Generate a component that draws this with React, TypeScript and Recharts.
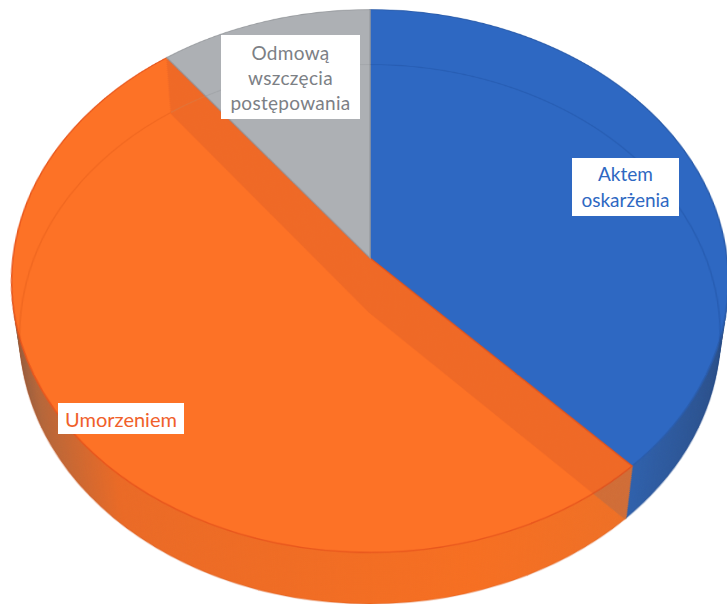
import React from "react";
import { PieChart, Pie, Cell } from "recharts";

const categories = ["Aktem oskarżenia", "Umorzeniem", "Odmową wszczęcia postępowania"];
const shares = [37.9, 51.7, 10.4];
const faceColors = ["#2e68c2", "#fd7226", "#adb0b4"];
const wallColors = ["url(#wallBlue)", "url(#wallOrange)", "#8f9296"];
const edgeColors = ["#2a5cab", "#e8561c", "#9a9da1"];
const floorEdge = ["#123a80", "#c84810", "#7a7d82"];
const labelLines = [["Aktem", "oskarżenia"], ["Umorzeniem"], ["Odmową", "wszczęcia", "postępowania"]];
const labelColors = ["#2e68c2", "#f0602a", "#7c8085"];

const data = categories.map((name, i) => ({ name, value: shares[i] }));

const SIZE = 720;
const RADIUS = 357;
const DEPTH = 84;
const WALL_LAYERS = 28;
const wallSteps = Array.from({ length: WALL_LAYERS }, (_, i) => WALL_LAYERS - i);
const arcLengths = shares.map((s) => (s / 100) * 2 * Math.PI * RADIUS);
const NONE = ["none", "none", "none"];

type LayerProps = {
  z: number;
  fills: string[];
  strokes?: string[];
  strokeWidth?: number;
  dashes?: (string | undefined)[];
};

function Layer({ z, fills, strokes, strokeWidth = 0, dashes }: LayerProps) {
  return (
    <div
      style={{
        position: "absolute",
        left: 10,
        top: -102,
        width: SIZE,
        height: SIZE,
        transformOrigin: "50% 50%",
        transform: `perspective(2757px) rotateX(41deg) translateZ(${z}px)`,
      }}
    >
      <PieChart width={SIZE} height={SIZE} margin={{ top: 0, right: 0, bottom: 0, left: 0 }}>
        <defs>
          <linearGradient id="wallBlue" x1="0" y1="0" x2="1" y2="0">
            <stop offset="0.7" stopColor="#2f60aa" />
            <stop offset="1" stopColor="#2a4d86" />
          </linearGradient>
          <linearGradient id="wallOrange" x1="0" y1="0" x2="1" y2="0">
            <stop offset="0" stopColor="#8a5a40" />
            <stop offset="0.06" stopColor="#b5663a" />
            <stop offset="0.2" stopColor="#ea6a26" />
            <stop offset="0.75" stopColor="#f66f22" />
            <stop offset="1" stopColor="#ee7026" />
          </linearGradient>
        </defs>
        <Pie
          data={data}
          dataKey="value"
          nameKey="name"
          cx={SIZE / 2}
          cy={SIZE / 2}
          outerRadius={RADIUS}
          startAngle={90}
          endAngle={-270}
          isAnimationActive={false}
          label={false}
          labelLine={false}
        >
          {fills.map((fill, i) => (
            <Cell
              key={categories[i]}
              fill={fill}
              stroke={strokes ? strokes[i] : "none"}
              strokeWidth={strokeWidth}
              strokeDasharray={dashes ? dashes[i] : undefined}
            />
          ))}
        </Pie>
      </PieChart>
    </div>
  );
}

const radialOnly = arcLengths.map((len) => `0 ${len} ${RADIUS * 2 + 4} 0`);
const arcOnly = arcLengths.map((len) => `${len} ${RADIUS * 2 + 4}`);

const boxStyle: React.CSSProperties = {
  position: "absolute",
  background: "#ffffff",
  fontFamily: "Lato, 'Open Sans', sans-serif",
  textAlign: "center",
  boxSizing: "border-box",
  display: "flex",
  flexDirection: "column",
  justifyContent: "center",
};

const labelBoxes: React.CSSProperties[] = [
  { left: 572, top: 158, width: 107, height: 58, fontSize: 19, lineHeight: "26px" },
  { left: 58, top: 403, width: 126, height: 31, fontSize: 20, lineHeight: "26px" },
  { left: 221, top: 35, width: 139, height: 84, fontSize: 19, lineHeight: "25px", letterSpacing: 0.3 },
];

export default function App() {
  return (
    <div
      style={{
        position: "absolute",
        left: 0,
        top: 0,
        width: 727,
        height: 604,
        overflow: "hidden",
        background: "#ffffff",
      }}
    >
      {wallSteps.map((step) => (
        <Layer key={step} z={(-DEPTH * step) / WALL_LAYERS} fills={wallColors} />
      ))}
      {wallSteps.map((step) => (
        <Layer
          key={`edge-${step}`}
          z={(-DEPTH * step) / WALL_LAYERS}
          fills={NONE}
          strokes={["none", "#d5783c", "none"]}
          strokeWidth={3}
          dashes={radialOnly}
        />
      ))}
      <Layer z={0} fills={faceColors} strokes={edgeColors} strokeWidth={1.5} />
      <div style={{ position: "absolute", left: 0, top: 0, width: 727, height: 604, opacity: 0.22 }}>
        {wallSteps.map((step) => (
          <Layer
            key={`ghost-${step}`}
            z={(-DEPTH * step) / WALL_LAYERS}
            fills={NONE}
            strokes={["none", "#c04c2c", "none"]}
            strokeWidth={3}
            dashes={radialOnly}
          />
        ))}
        <Layer z={-DEPTH} fills={NONE} strokes={floorEdge} strokeWidth={1.5} dashes={arcOnly} />
      </div>
      {labelLines.map((lines, i) => (
        <div key={categories[i]} style={{ ...boxStyle, ...labelBoxes[i], color: labelColors[i] }}>
          {lines.map((line) => (
            <div key={line}>{line}</div>
          ))}
        </div>
      ))}
    </div>
  );
}
